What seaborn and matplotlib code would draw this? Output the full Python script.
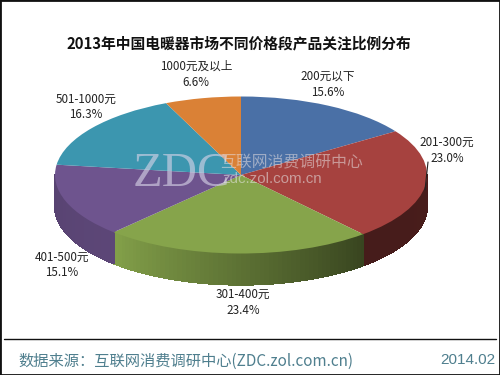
import numpy as np
import matplotlib
matplotlib.use("Agg")
import matplotlib.pyplot as plt
from matplotlib.collections import PolyCollection
from matplotlib.patches import Rectangle
import seaborn as sns

title = "2013年中国电暖器市场不同价格段产品关注比例分布"
categories = ["200元以下", "201-300元", "301-400元", "401-500元", "501-1000元", "1000元及以上"]
values = [15.6, 23.0, 23.4, 15.1, 16.3, 6.6]
colors = ["#4A70A6", "#A6423F", "#86A44B", "#6E548E", "#3C96AF", "#DA8136"]
side_shade_start = [0.45, 0.44, 0.42, 0.84, 0.80, 0.80]
side_shade_end = [0.45, 0.42, 0.97, 0.80, 0.80, 0.80]
label_pos = [(328, 84), (447, 150), (243, 302), (62, 265), (86, 107), (196, 74)]
source_text = "数据来源：互联网消费调研中心(ZDC.zol.com.cn)"
date_text = "2014.02"
watermark = ["ZDC", "互联网消费调研中心", "zdc.zol.com.cn"]

W, H = 500, 375
CX, CY, RX, RY, DEPTH = 241.0, 175.0, 186.0, 78.5, 31.0

sns.set_theme(style="white")
plt.rcParams["font.family"] = ["Noto Sans CJK SC", "DejaVu Sans"]


def px(x, y):
    return x / W, 1 - y / H


fig = plt.figure(figsize=(5, 3.75), dpi=100, facecolor="white")
ax = fig.add_axes([0, 0, 1, 1])

wedges, _ = ax.pie(values, colors=colors, startangle=90, counterclock=False,
                   radius=1, frame=True, normalize=True,
                   wedgeprops={"linewidth": 0, "zorder": 3})
ax.set_aspect("auto")
ax.set_xlim((0 - CX) / RX, (W - CX) / RX)
ax.set_ylim((CY - H) / RY, (CY - 0) / RY)
ax.set_xticks([])
ax.set_yticks([])
for s in ax.spines.values():
    s.set_visible(False)
ax.patch.set_alpha(0)

# extruded rim, built from the slice values
d = DEPTH / RY
total = sum(values)
fracs = np.cumsum([0] + values) / total
base = np.array([matplotlib.colors.to_rgb(c) for c in colors])
polys, cols = [], []
for i in range(len(values)):
    a0, a1 = fracs[i] * 2 * np.pi, fracs[i + 1] * 2 * np.pi
    lo, hi = max(a0, np.pi / 2), min(a1, 3 * np.pi / 2)
    if hi <= lo:
        continue
    edges = np.linspace(lo, hi, 60)
    t = np.linspace(0, 1, 59)
    for k in range(59):
        s0, s1 = edges[k], edges[k + 1]
        polys.append([(np.sin(s0), np.cos(s0)), (np.sin(s1), np.cos(s1)),
                      (np.sin(s1), np.cos(s1) - d), (np.sin(s0), np.cos(s0) - d)])
        shade = side_shade_start[i] + (side_shade_end[i] - side_shade_start[i]) * t[k]
        cols.append(base[i] * shade)
ax.add_collection(PolyCollection(polys, facecolors=cols, edgecolors=cols, linewidths=1.0,
                                 antialiaseds=False, zorder=2))

# labels
for name, val, (x, y) in zip(categories, values, label_pos):
    fx, fy = px(x, y)
    fig.text(fx, fy, f"{name}\n{val:.1f}%", ha="center", va="center", fontsize=8.4,
             color="#222222", linespacing=1.3, zorder=6)

# leader line
ax.plot([(428 - CX) / RX, (425 - CX) / RX], [(CY - 162) / RY, (CY - 190) / RY],
        color="#222222", lw=0.8, zorder=5)

# watermark
fx, fy = px(133, 186)
fig.text(fx, fy, watermark[0], family="Liberation Serif", fontsize=35, color="#D8D4E8",
         alpha=0.62, ha="left", va="baseline", zorder=5)
fx, fy = px(220, 163)
fig.text(fx, fy, watermark[1], fontsize=11.4, color="#E6DFE0", alpha=0.55,
         ha="left", va="center", zorder=5)
fx, fy = px(222, 179)
fig.text(fx, fy, watermark[2], family="Liberation Sans", fontsize=10.9, color="#E6E6E6",
         alpha=0.55, ha="left", va="center", zorder=5)

# title
fx, fy = px(239, 43)
fig.text(fx, fy, title, fontsize=10.65, fontweight="bold", color="#111111",
         ha="center", va="center", zorder=6)

# footer
fig.add_artist(plt.Line2D([4 / W, 496 / W], [1 - 338.5 / H] * 2, color="#111111", lw=1))
fx, fy = px(18, 361)
fig.text(fx, fy, source_text, fontsize=11, color="#4F7F8E", ha="left", va="center")
fx, fy = px(495, 360)
fig.text(fx, fy, date_text, family="Liberation Sans", fontsize=11, color="#4F7F8E",
         ha="right", va="center")

# outer frame
fig.add_artist(Rectangle((0, 0), 1, 1, transform=fig.transFigure, fill=False,
                         edgecolor="#111111", lw=2))

fig.savefig("out.png", dpi=100)
